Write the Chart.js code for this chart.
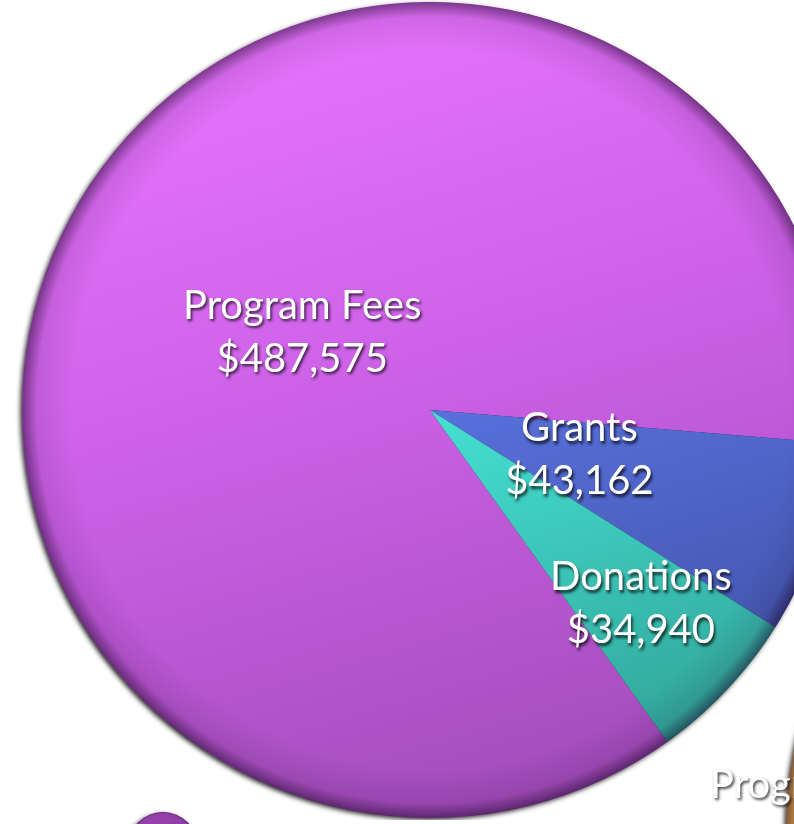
<!DOCTYPE html>
<html>
<head>
<meta charset="utf-8">
<script src="https://cdn.jsdelivr.net/npm/chart.js@4"></script>
<style>
  html, body { margin: 0; padding: 0; width: 794px; height: 824px; overflow: hidden; background: #fff; }
  canvas { position: absolute; }
  #revenue { left: 0; top: 0; }
  #expenses { left: 686px; top: 410px; }
  #other { left: 113px; top: 797px; }
</style>
</head>
<body>
<canvas id="revenue" width="860" height="820"></canvas>
<canvas id="expenses" width="1000" height="840"></canvas>
<canvas id="other" width="100" height="100"></canvas>
<script>
// revenue pie
const revenueLabels = ['Program Fees', 'Grants', 'Donations'];
const revenueValues = [487575, 43162, 34940];
// neighbouring charts: only an edge of each is in frame
const expenseLabels = ['Program Expenses'];
const expenseValues = [1];
const otherLabels = [''];
const otherValues = [1];

// light -> dark shade per slice
const revenueShades = [
    ['#e674fd', '#c95fe4', '#a04cb8'],
    ['#6a80ee', '#5870dc', '#3d4fa0'],
    ['#52f0e2', '#44e0d2', '#30a094']
];

const money = v => '$' + v.toLocaleString('en-US');

// gradient over the whole disc, taken from the chart area and radius option
const shadeFill = shades => (ctx) => {
    const chart = ctx.chart;
    const area = chart.chartArea;
    const s = shades[ctx.dataIndex];
    if (!area) return s[1];
    const x = (area.left + area.right) / 2;
    const y = (area.top + area.bottom) / 2;
    const r = chart.options.radius;
    const g = chart.ctx.createLinearGradient(x - r * 0.3, y - r, x + r * 0.3, y + r);
    g.addColorStop(0, s[0]);
    g.addColorStop(0.5, s[1]);
    g.addColorStop(1, s[2]);
    return g;
};

// drop shadow under the disc, dark rim on top, then the labels
const bevelPlugin = {
    id: 'bevel',
    beforeDatasetsDraw(chart) {
        const arc = chart.getDatasetMeta(0).data[0];
        if (!arc) return;
        const ctx = chart.ctx;
        ctx.save();
        ctx.shadowColor = 'rgba(0,0,0,0.9)';
        ctx.shadowBlur = 5;
        ctx.shadowOffsetX = -2;
        ctx.shadowOffsetY = 2;
        ctx.fillStyle = '#222';
        ctx.beginPath();
        ctx.arc(arc.x, arc.y, arc.outerRadius - 0.5, 0, Math.PI * 2);
        ctx.fill();
        ctx.restore();
    },
    afterDatasetsDraw(chart, args, opts) {
        const meta = chart.getDatasetMeta(0);
        const first = meta.data[0];
        if (!first) return;
        const ctx = chart.ctx;
        const { x, y, outerRadius: r } = first;

        ctx.save();
        ctx.beginPath();
        ctx.arc(x, y, r, 0, Math.PI * 2);
        ctx.clip();
        const rim = ctx.createRadialGradient(x, y, r * 0.88, x, y, r);
        rim.addColorStop(0, 'rgba(30,0,40,0)');
        rim.addColorStop(0.7, 'rgba(30,0,40,0.1)');
        rim.addColorStop(1, 'rgba(20,0,30,0.5)');
        ctx.fillStyle = rim;
        ctx.fillRect(x - r, y - r, r * 2, r * 2);
        ctx.restore();

        const ds = chart.data.datasets[0];
        ctx.save();
        ctx.font = opts.font;
        ctx.textAlign = opts.align || 'center';
        ctx.textBaseline = 'middle';
        ctx.fillStyle = '#fff';
        ctx.shadowColor = 'rgba(0,0,0,0.75)';
        ctx.shadowBlur = 3;
        ctx.shadowOffsetX = 1.5;
        ctx.shadowOffsetY = 2.5;
        meta.data.forEach((a, i) => {
            const f = opts.radii[i];
            if (f == null) return;
            const mid = (a.startAngle + a.endAngle) / 2;
            const lx = a.x + Math.cos(mid) * a.outerRadius * f;
            const ly = a.y + Math.sin(mid) * a.outerRadius * f + (opts.shiftY || 0);
            const lines = [chart.data.labels[i]];
            if (opts.values) lines.push(money(ds.data[i]));
            const h = opts.lineHeight;
            lines.forEach((t, k) => {
                ctx.fillText(t, lx, ly + (k - (lines.length - 1) / 2) * h);
            });
        });
        ctx.restore();
    }
};

const baseOptions = (rotation, radius, labelOpts) => ({
    responsive: false,
    animation: false,
    events: [],
    rotation,
    radius,
    layout: { padding: 0 },
    plugins: {
        legend: { display: false },
        tooltip: { enabled: false },
        bevel: labelOpts
    }
});

const labelFont = '40px Lato, "Open Sans", sans-serif';

new Chart(document.getElementById('revenue'), {
    type: 'pie',
    data: {
        labels: revenueLabels,
        datasets: [{
            data: revenueValues,
            backgroundColor: shadeFill(revenueShades),
            borderWidth: 0
        }]
    },
    options: baseOptions(144.4, 408, {
        font: labelFont,
        radii: [0.36, 0.386, 0.71],
        values: true,
        lineHeight: 53,
        shiftY: -5
    }),
    plugins: [bevelPlugin]
});

new Chart(document.getElementById('expenses'), {
    type: 'pie',
    data: {
        labels: expenseLabels,
        datasets: [{
            data: expenseValues,
            backgroundColor: shadeFill([['#f4c060', '#e8aa48', '#c98a30']]),
            borderWidth: 0
        }]
    },
    options: baseOptions(95.4, 400, {
        font: labelFont,
        radii: [1.195],
        align: 'left',
        values: false,
        lineHeight: 53
    }),
    plugins: [bevelPlugin]
});

new Chart(document.getElementById('other'), {
    type: 'pie',
    data: {
        labels: otherLabels,
        datasets: [{
            data: otherValues,
            backgroundColor: shadeFill([['#9a42b0', '#8c3aa0', '#7a3090']]),
            borderWidth: 0
        }]
    },
    options: baseOptions(0, 35, { font: '12px Lato', radii: [], values: false, lineHeight: 0 }),
    plugins: [bevelPlugin]
});
</script>
</body>
</html>
